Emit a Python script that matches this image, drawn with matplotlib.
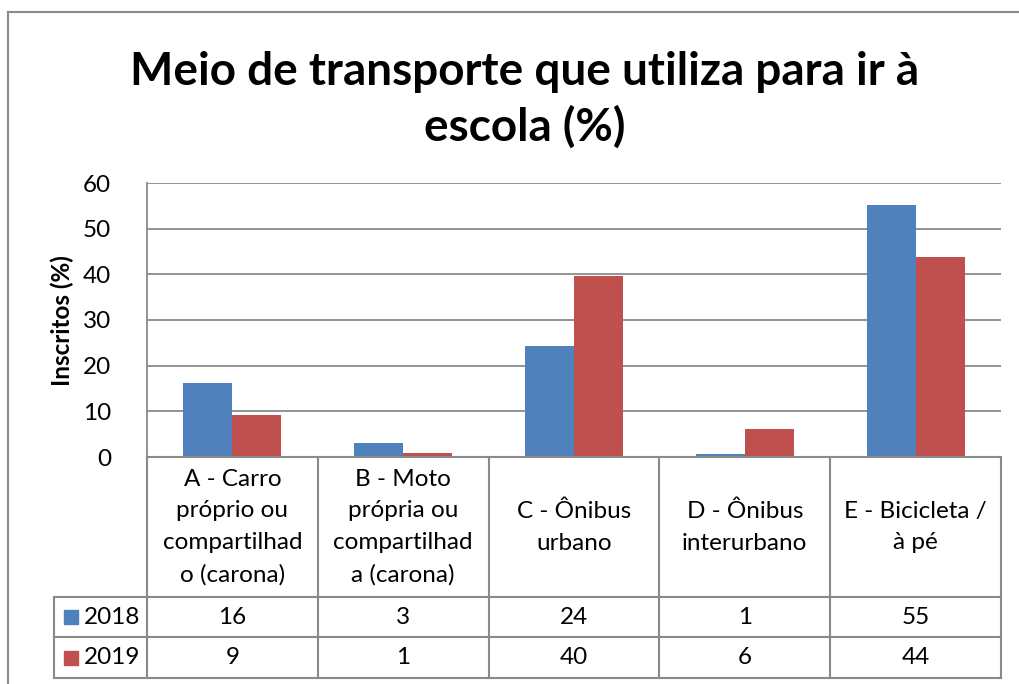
import matplotlib
matplotlib.use("Agg")
import matplotlib.pyplot as plt
from matplotlib.lines import Line2D
from matplotlib.patches import Rectangle
import matplotlib.transforms as mtrans
import numpy as np

categories = ["A - Carro\npróprio ou\ncompartilhad\no (carona)",
              "B - Moto\nprópria ou\ncompartilhad\na (carona)",
              "C - Ônibus\nurbano",
              "D - Ônibus\ninterurbano",
              "E - Bicicleta /\nà pé"]
series_names = ["2018", "2019"]
values_2018 = [16.3, 3.1, 24.2, 0.7, 55.2]
values_2019 = [9.3, 0.9, 39.7, 6.2, 43.8]
colors = ["#4F81BD", "#C0504D"]
yticks = [0, 10, 20, 30, 40, 50, 60]

W, H = 1019, 684
FONT = "Lato"
GRID = "#8a8a8a"
FS = 17.5


def main():
    fig = plt.figure(figsize=(W / 100, H / 100), dpi=100)
    # pixel coords measured from the top-left corner
    px = mtrans.Affine2D().scale(1 / W, -1 / H).translate(0, 1) + fig.transFigure

    left, right, top, bottom = 147, 1001, 183, 457
    ax = fig.add_axes([left / W, 1 - bottom / H, (right - left) / W, (bottom - top) / H])

    x = np.arange(len(categories))
    bw = 0.287
    ax.bar(x - bw / 2, values_2018, bw, color=colors[0], zorder=3)
    ax.bar(x + bw / 2, values_2019, bw, color=colors[1], zorder=3)

    ax.set_xlim(-0.5, len(categories) - 0.5)
    ax.set_ylim(yticks[0], yticks[-1])
    ax.set_yticks(yticks)
    ax.set_xticks([])
    ax.yaxis.grid(True, color=GRID, lw=1.3, zorder=0)
    ax.tick_params(axis="y", length=0, pad=26, labelsize=FS)
    for lab in ax.get_yticklabels():
        lab.set_fontfamily(FONT)
    for s in ["top", "right", "bottom"]:
        ax.spines[s].set_visible(False)
    ax.spines["left"].set_color(GRID)
    ax.spines["left"].set_linewidth(1.3)

    fig.text(62, 321, "Inscritos (%)", transform=px, rotation=90, ha="center", va="center",
             fontsize=FS, fontweight="bold", family=FONT)

    fig.text(525, 100, "Meio de transporte que utiliza para ir à\nescola (%)", transform=px,
             ha="center", va="center", fontsize=33, fontweight="bold", family=FONT,
             linespacing=1.35)

    # data table below the axis
    col_x = [ax.transData.transform((i - 0.5, 0))[0] for i in range(len(categories) + 1)]
    col_x = [fig.transFigure.inverted().transform((c, 0))[0] * W for c in col_x]
    leg_left = 54
    row_y = [457, 597, 637, 678]

    def line(x0, y0, x1, y1):
        fig.add_artist(Line2D([x0, x1], [y0, y1], transform=px, color=GRID, lw=1.5))

    line(col_x[0], row_y[0], col_x[-1], row_y[0])
    for y in row_y[1:]:
        line(leg_left, y, col_x[-1], y)
    for c in col_x:
        line(c, row_y[0], c, row_y[-1])
    line(leg_left, row_y[1], leg_left, row_y[-1])

    for i, cat in enumerate(categories):
        cx = (col_x[i] + col_x[i + 1]) / 2
        fig.text(cx, (row_y[0] + row_y[1]) / 2, cat, transform=px, ha="center", va="center",
                 fontsize=FS, family=FONT, linespacing=1.62)

    for r, (name, vals) in enumerate(zip(series_names, [values_2018, values_2019])):
        cy = (row_y[r + 1] + row_y[r + 2]) / 2
        fig.add_artist(Rectangle((64, cy - 7), 14, 14, transform=px, color=colors[r]))
        fig.text(84, cy, name, transform=px, ha="left", va="center", fontsize=FS, family=FONT)
        for i, v in enumerate(vals):
            cx = (col_x[i] + col_x[i + 1]) / 2
            fig.text(cx, cy, f"{v:.0f}", transform=px, ha="center", va="center",
                     fontsize=FS, family=FONT)

    # chart frame (left and top edges visible)
    fig.add_artist(Line2D([8.5, 8.5], [12, H], transform=px, color=GRID, lw=1.5))
    fig.add_artist(Line2D([8, W], [12, 12], transform=px, color=GRID, lw=1.5))

    fig.savefig("out.png", dpi=100)


if __name__ == "__main__":
    main()
